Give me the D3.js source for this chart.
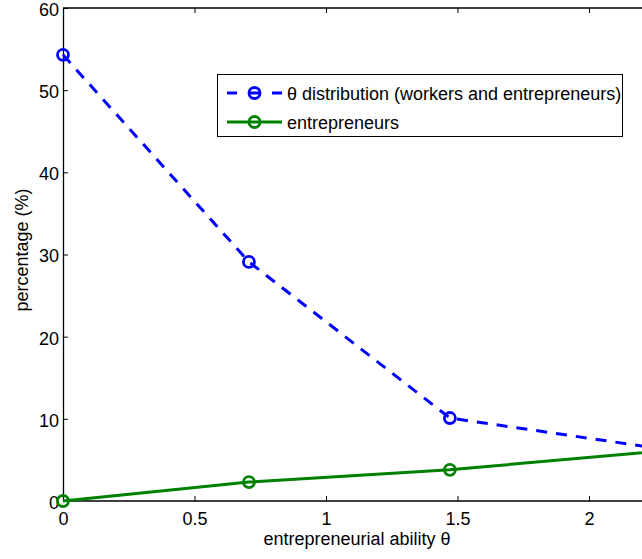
<!DOCTYPE html>
<html>
<head>
<meta charset="utf-8">
<script src="https://cdn.jsdelivr.net/npm/d3@7"></script>
<style>
  html, body { margin: 0; padding: 0; background: #fff; }
  svg { display: block; font-family: "Liberation Sans", Arial, sans-serif; }
</style>
</head>
<body>
<svg id="chart" width="642" height="559"></svg>
<script>
// Entrepreneurial ability grid points
const theta = [0, 0.707, 1.471, 2.35];
// Share of the population at each ability level (%)
const distribution = [54.3, 29.1, 10.1, 6.0];
// Share of entrepreneurs at each ability level (%)
const entrepreneurs = [0, 2.3, 3.8, 6.3];

const xTicks = [0, 0.5, 1, 1.5, 2];
const yTicks = [0, 10, 20, 30, 40, 50, 60];

const seriesNames = ["\u03b8 distribution (workers and entrepreneurs)", "entrepreneurs"];
const seriesColors = ["#0000ff", "#008000"];

const svg = d3.select("#chart");
const plotLeft = 63, plotTop = 8, plotBottom = 501;
const x = d3.scaleLinear().domain([0, 1]).range([plotLeft, plotLeft + 263]);
const y = d3.scaleLinear().domain([0, 60]).range([plotBottom, plotTop]);
const plotRight = x(2.6);
const fontSize = 18;

svg.append("rect").attr("width", 642).attr("height", 559).attr("fill", "#fff");

// axes frame
const gx = svg.append("g").attr("transform", `translate(0,${plotBottom})`)
  .call(d3.axisBottom(x).tickValues(xTicks).tickSizeInner(-5).tickSizeOuter(0).tickPadding(11)
    .tickFormat(d3.format("")));
const gxTop = svg.append("g").attr("transform", `translate(0,${plotTop})`)
  .call(d3.axisTop(x).tickValues(xTicks).tickSizeInner(-5).tickSizeOuter(0).tickFormat(""));
const gy = svg.append("g").attr("transform", `translate(${plotLeft},0)`)
  .call(d3.axisLeft(y).tickValues(yTicks).tickSizeInner(-5).tickSizeOuter(0).tickPadding(4));

[gx, gxTop, gy].forEach(g => {
  g.select(".domain").attr("stroke", "#000").attr("stroke-width", 1.3);
  g.selectAll(".tick line").attr("stroke", "#000").attr("stroke-width", 1);
  g.selectAll(".tick text").attr("fill", "#000").attr("font-size", fontSize)
    .attr("font-family", "Liberation Sans, Arial, sans-serif");
});
gy.selectAll(".tick text").attr("dy", "0.41em");
gx.select(".domain").attr("d", `M${plotLeft},0H${plotRight}`);
gxTop.select(".domain").attr("d", `M${plotLeft},0H${plotRight}`);

// axis labels
svg.append("text").attr("x", 357).attr("y", 545)
  .attr("text-anchor", "middle").attr("font-size", fontSize).text("entrepreneurial ability \u03b8");
svg.append("text").attr("transform", "translate(28,250) rotate(-90)")
  .attr("text-anchor", "middle").attr("font-size", fontSize).text("percentage (%)");

// series
const series = [distribution, entrepreneurs];
const dashes = ["11,9", null];
const line = d3.line().x((d, i) => x(theta[i])).y(d => y(d));

series.forEach((vals, k) => {
  svg.append("path").datum(vals).attr("d", line)
    .attr("fill", "none").attr("stroke", seriesColors[k]).attr("stroke-width", 3)
    .attr("stroke-dasharray", dashes[k]);
  svg.selectAll(null).data(vals).enter().append("circle")
    .attr("cx", (d, i) => x(theta[i])).attr("cy", d => y(d)).attr("r", 5.5)
    .attr("fill", "none").attr("stroke", seriesColors[k]).attr("stroke-width", 2.8);
});

// legend
const lg = svg.append("g");
lg.append("rect").attr("x", 217.5).attr("y", 74.5).attr("width", 405).attr("height", 62)
  .attr("fill", "#fff").attr("stroke", "#000").attr("stroke-width", 1);
seriesNames.forEach((name, k) => {
  const cy = 93 + k * 29;
  lg.append("line").attr("x1", 227).attr("x2", 282).attr("y1", cy).attr("y2", cy)
    .attr("stroke", seriesColors[k]).attr("stroke-width", 3)
    .attr("stroke-dasharray", dashes[k] ? "10,12.5" : null);
  lg.append("circle").attr("cx", 254.5).attr("cy", cy).attr("r", 5.5)
    .attr("fill", "none").attr("stroke", seriesColors[k]).attr("stroke-width", 2.8);
  lg.append("text").attr("x", 287).attr("y", cy + 6.5).attr("font-size", fontSize).text(name);
});
</script>
</body>
</html>
